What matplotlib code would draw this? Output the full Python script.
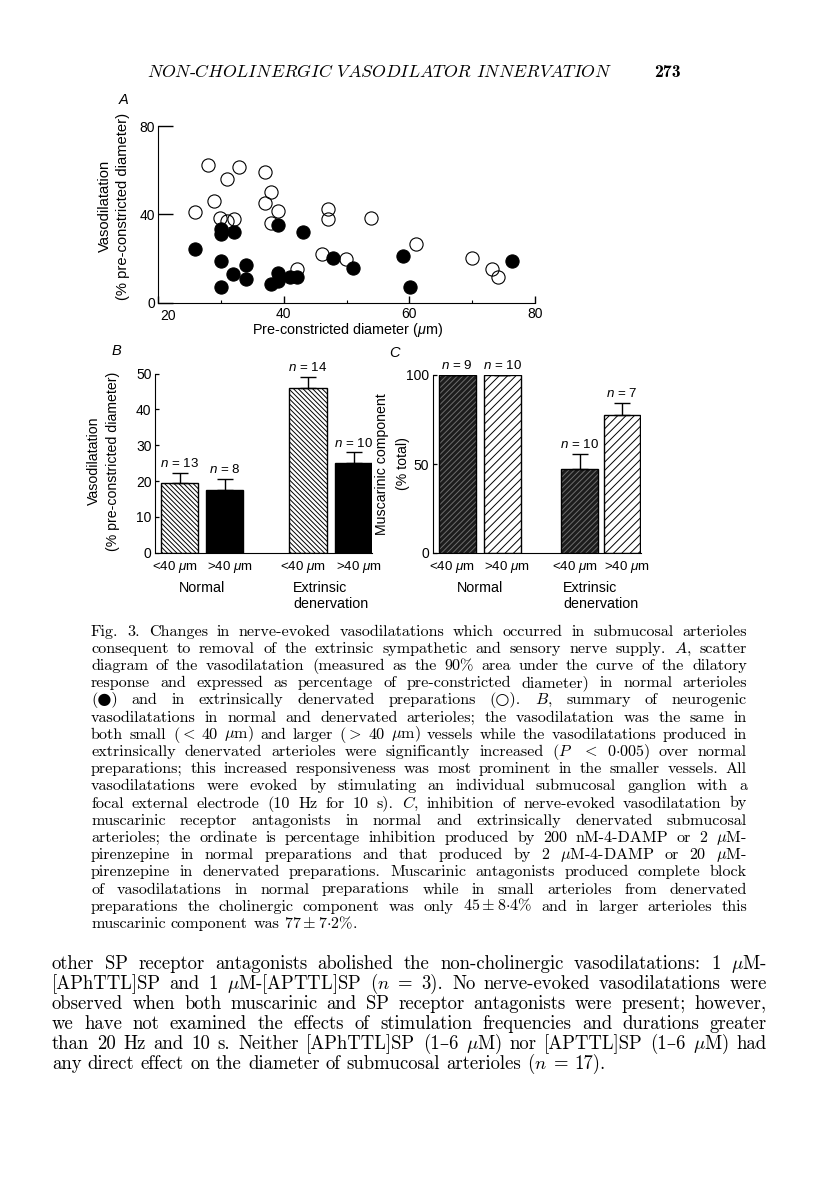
import numpy as np
import matplotlib
matplotlib.use('Agg')
import matplotlib.pyplot as plt

W, H = 816, 1197

plt.rcParams['font.family'] = ['Liberation Sans', 'DejaVu Sans']
plt.rcParams['mathtext.fontset'] = 'custom'
plt.rcParams['mathtext.rm'] = 'Liberation Sans'
plt.rcParams['mathtext.it'] = 'Liberation Sans:italic'
plt.rcParams['hatch.linewidth'] = 0.7

# ---- panel A: scatter ----
normal_x = [25.9, 30.0, 30.0, 32.0, 30.0, 31.9, 33.9, 33.9, 30.0, 37.9, 39.0,
            39.0, 40.9, 42.1, 39.0, 43.0, 47.9, 51.0, 58.9, 60.1, 76.3]
normal_y = [24.2, 33.5, 30.9, 32.0, 18.9, 13.1, 17.2, 10.6, 7.1, 8.3, 9.8,
            13.3, 11.8, 11.8, 35.2, 32.0, 20.1, 15.8, 21.1, 7.1, 18.9]
dener_x = [25.9, 27.9, 28.9, 30.9, 32.9, 29.8, 30.9, 32.0, 37.0, 37.9, 37.0, 38.0,
           39.0, 47.0, 47.0, 53.9, 61.1, 46.0, 49.9, 42.1, 70.0, 73.1, 74.1]
dener_y = [41.2, 62.2, 46.0, 56.2, 61.4, 38.5, 37.0, 38.0, 59.2, 50.1, 45.3, 36.2,
           41.5, 42.3, 37.7, 38.5, 26.4, 22.2, 19.9, 15.4, 20.1, 15.4, 11.8]
a_xticks = [20, 40, 60, 80]
a_yticks = [0, 40, 80]

# ---- panel B / C: bars ----
size_labels = [r'<40 $\mu$m', r'>40 $\mu$m', r'<40 $\mu$m', r'>40 $\mu$m']
group_labels = ['Normal', ['Extrinsic', 'denervation']]
b_mean = [19.6, 17.5, 46.0, 25.0]
b_sem = [2.7, 3.0, 3.0, 3.0]
b_n = [13, 8, 14, 10]
c_mean = [100, 100, 47.0, 77.5]
c_sem = [0, 0, 8.6, 7.0]
c_n = [9, 10, 10, 7]

header = r"$NON$-$CHOLINERGIC$ $VASODILATOR$ $INNERVATION$"
page_no = "273"

caption = [
    "Fig. 3. Changes in nerve-evoked vasodilatations which occurred in submucosal arterioles",
    "consequent to removal of the extrinsic sympathetic and sensory nerve supply. $A$, scatter",
    "diagram of the vasodilatation (measured as the 90% area under the curve of the dilatory",
    "response and expressed as percentage of pre-constricted diameter) in normal arterioles",
    "(●) and in extrinsically denervated preparations (○). $B$, summary of neurogenic",
    "vasodilatations in normal and denervated arterioles; the vasodilatation was the same in",
    r"both small ($<$ 40 $\mu$m) and larger ($>$ 40 $\mu$m) vessels while the vasodilatations produced in",
    r"extrinsically denervated arterioles were significantly increased ($P$ $<$ $0{\cdot}005$) over normal",
    "preparations; this increased responsiveness was most prominent in the smaller vessels. All",
    "vasodilatations were evoked by stimulating an individual submucosal ganglion with a",
    "focal external electrode (10 Hz for 10 s). $C$, inhibition of nerve-evoked vasodilatation by",
    "muscarinic receptor antagonists in normal and extrinsically denervated submucosal",
    r"arterioles; the ordinate is percentage inhibition produced by 200 nM-4-DAMP or 2 $\mu$M-",
    r"pirenzepine in normal preparations and that produced by 2 $\mu$M-4-DAMP or 20 $\mu$M-",
    "pirenzepine in denervated preparations. Muscarinic antagonists produced complete block",
    "of vasodilatations in normal preparations while in small arterioles from denervated",
    r"preparations the cholinergic component was only $45\pm8{\cdot}4$% and in larger arterioles this",
    r"muscarinic component was $77\pm7{\cdot}2$%.",
]

body = [
    r"other SP receptor antagonists abolished the non-cholinergic vasodilatations: 1 $\mu$M-",
    r"[APhTTL]SP and 1 $\mu$M-[APTTL]SP ($n$ = 3). No nerve-evoked vasodilatations were",
    "observed when both muscarinic and SP receptor antagonists were present; however,",
    "we have not examined the effects of stimulation frequencies and durations greater",
    r"than 20 Hz and 10 s. Neither [APhTTL]SP (1–6 $\mu$M) nor [APTTL]SP (1–6 $\mu$M) had",
    r"any direct effect on the diameter of submucosal arterioles ($n$ = 17).",
]


def box(l, t, r, b):
    return [l / W, 1 - b / H, (r - l) / W, (b - t) / H]


def fx(x):
    return x / W


def fy(y):
    return 1 - y / H


fig = plt.figure(figsize=(W / 100, H / 100), dpi=100)
fig.patch.set_facecolor('white')
renderer = fig.canvas.get_renderer()

# ---------------- A ----------------
axA = fig.add_axes(box(158.3, 126, 535, 302.7))
axA.plot(dener_x, dener_y, 'o', ms=9.5, mfc='none', mec='black', mew=0.8,
         ls='none', clip_on=False)
axA.plot(normal_x, normal_y, 'o', ms=9.5, mfc='black', mec='black', mew=0.8,
         ls='none', clip_on=False)
axA.set_xlim(20, 80)
axA.set_ylim(0, 80)
for s in ['top', 'right']:
    axA.spines[s].set_visible(False)
axA.set_xticks(a_xticks)
# first x label is nudged right of the corner (as in the original) so it is drawn separately
axA.set_xticklabels([''] + [str(v) for v in a_xticks[1:]])
axA.annotate(str(a_xticks[0]), xy=(a_xticks[0], 0), xytext=(7, -9.5), textcoords='offset points',
             ha='center', va='center', fontsize=10, annotation_clip=False)
axA.set_xticks([30, 50, 70], minor=True)
axA.set_yticks(a_yticks)
axA.tick_params(axis='y', direction='in', length=10.5, width=1, pad=2.5, labelsize=10)
axA.tick_params(axis='x', which='major', direction='in', length=5, width=1, pad=3, labelsize=10)
axA.tick_params(axis='x', which='minor', direction='in', length=2.5, width=0.8)
fig.text(fx(348), fy(330), r'Pre-constricted diameter ($\mu$m)', ha='center', va='center', fontsize=10.4)
fig.text(fx(105), fy(206), 'Vasodilatation', rotation=90, ha='center', va='center', fontsize=10.6)
fig.text(fx(123), fy(206), '(% pre-constricted diameter)', rotation=90, ha='center', va='center', fontsize=10.6)
fig.text(fx(124), fy(100), 'A', style='italic', ha='center', va='center', fontsize=10.5)


def bar_panel(ax, pos, width, means, sems, ns, draw_bars, xlim, ylim, yticks):
    draw_bars(ax, pos, width, means)
    ax.errorbar(pos, means, yerr=[np.zeros(len(means)), sems], fmt='none',
                ecolor='black', elinewidth=1, capsize=6, capthick=1, zorder=5)
    for p, m, s, n in zip(pos, means, sems, ns):
        ax.annotate(f'$n$ = {n}', xy=(p, m + s), xytext=(0, 6.8), textcoords='offset points',
                    ha='center', va='center', fontsize=9.6, annotation_clip=False)
    ax.set_xlim(*xlim)
    ax.set_ylim(*ylim)
    ax.set_yticks(yticks)
    ax.set_xticks([])
    for s in ['top', 'right']:
        ax.spines[s].set_visible(False)
    ax.tick_params(axis='y', direction='in', length=3, width=0.9, pad=2.5, labelsize=10)
    for i, (p, lab) in enumerate(zip(pos, size_labels)):
        off = -3.6 if i % 2 == 0 else 3.6
        ax.annotate(lab, xy=(p, fy(567)), xycoords=('data', 'figure fraction'),
                    xytext=(off, 0), textcoords='offset points',
                    ha='center', va='center', fontsize=9.6)
    ax.annotate(group_labels[0], xy=((pos[0] + pos[1]) / 2, fy(588)),
                xycoords=('data', 'figure fraction'), ha='center', va='center', fontsize=10.3)
    # two-line group label, lines flush left
    gx = (pos[2] + pos[3]) / 2
    low = ax.annotate(group_labels[1][1], xy=(gx, fy(603.5)),
                      xycoords=('data', 'figure fraction'), ha='center', va='center',
                      fontsize=10.3)
    left_px = low.get_window_extent(renderer).x0
    fig.text(left_px / W, fy(588), group_labels[1][0], ha='left', va='center', fontsize=10.3)


def bars_b(ax, pos, width, means):
    for i, (p, m) in enumerate(zip(pos, means)):
        if i % 2 == 0:
            ax.bar(p, m, width=width, facecolor='white', edgecolor='black',
                   hatch='\\' * 7, linewidth=1)
        else:
            ax.bar(p, m, width=width, facecolor='black', edgecolor='black', linewidth=1)


def bars_c(ax, pos, width, means):
    for i, (p, m) in enumerate(zip(pos, means)):
        if i % 2 == 0:
            ax.bar(p, m, width=width, facecolor='#1c1c1c', edgecolor='#6e6e6e',
                   hatch='/' * 6, linewidth=0)
            ax.bar(p, m, width=width, fill=False, edgecolor='black', linewidth=1)
        else:
            ax.bar(p, m, width=width, facecolor='white', edgecolor='black',
                   hatch='/' * 4, linewidth=1)


# ---------------- B ----------------
axB = fig.add_axes(box(155, 373.7, 372.3, 552.7))
bar_panel(axB, [0, 1, 2.853, 3.867], 0.83, b_mean, b_sem, b_n, bars_b,
          (-0.547, 4.282), (0, 50), [0, 10, 20, 30, 40, 50])
fig.text(fx(94), fy(461), 'Vasodilatation', rotation=90, ha='center', va='center', fontsize=10.2)
fig.text(fx(113), fy(461), '(% pre-constricted diameter)', rotation=90, ha='center', va='center', fontsize=10.2)
fig.text(fx(116), fy(351), 'B', style='italic', ha='center', va='center', fontsize=10.5)

# ---------------- C ----------------
axC = fig.add_axes(box(432.7, 375, 640.7, 553))
bar_panel(axC, [0, 1, 2.71, 3.65], 0.81, c_mean, c_sem, c_n, bars_c,
          (-0.542, 4.06), (0, 100), [0, 50, 100])
fig.text(fx(382), fy(464), 'Muscarinic component', rotation=90, ha='center', va='center', fontsize=10.2)
fig.text(fx(403), fy(464), '(% total)', rotation=90, ha='center', va='center', fontsize=10.2)
fig.text(fx(395), fy(353), 'C', style='italic', ha='center', va='center', fontsize=10.5)

# ---------------- page text ----------------
SERIF = dict(family=['cmr10', 'DejaVu Serif', 'DejaVu Sans'], math_fontfamily='cm')


def text_w(s, size, **kw):
    t = fig.text(0, 0, s, fontsize=size, **kw)
    w = t.get_window_extent(renderer).width
    t.remove()
    return w


def fit_size(lines, target, base=10.0):
    widest = max(text_w(l, base, **SERIF) for l in lines)
    return base * target / widest


def set_line(line, x0, x1, ybase, size, justify):
    words = line.split(' ')
    arts = [fig.text(0, fy(ybase), w, fontsize=size, va='baseline', ha='left', **SERIF)
            for w in words]
    widths = [a.get_window_extent(renderer).width for a in arts]
    if justify and len(words) > 1:
        gap = (x1 - x0 - sum(widths)) / (len(words) - 1)
    else:
        gap = size * 100 / 72 * 0.333
    x = x0
    for a, w in zip(arts, widths):
        a.set_x(fx(x))
        x += w + gap


# running head
hs = 10.0 * 466 / text_w(header, 10.0, **SERIF)
fig.text(fx(147), fy(77), header, fontsize=hs, va='baseline', ha='left', **SERIF)
fig.text(fx(681), fy(77), page_no, fontsize=hs, va='baseline', ha='right',
         family=['cmb10', 'DejaVu Serif'], weight='bold')

# caption
cs = fit_size(caption[:-1], 656 * 0.985)
for i, line in enumerate(caption):
    set_line(line, 91, 747, 635.5 + i * 17.2, cs, i < len(caption) - 1)

# body text
bs = fit_size(body[:-1], 715 * 0.975)
for i, line in enumerate(body):
    set_line(line, 52, 767, 969 + i * 20.0, bs, i < len(body) - 1)

fig.savefig('out.png', dpi=100, facecolor='white')
